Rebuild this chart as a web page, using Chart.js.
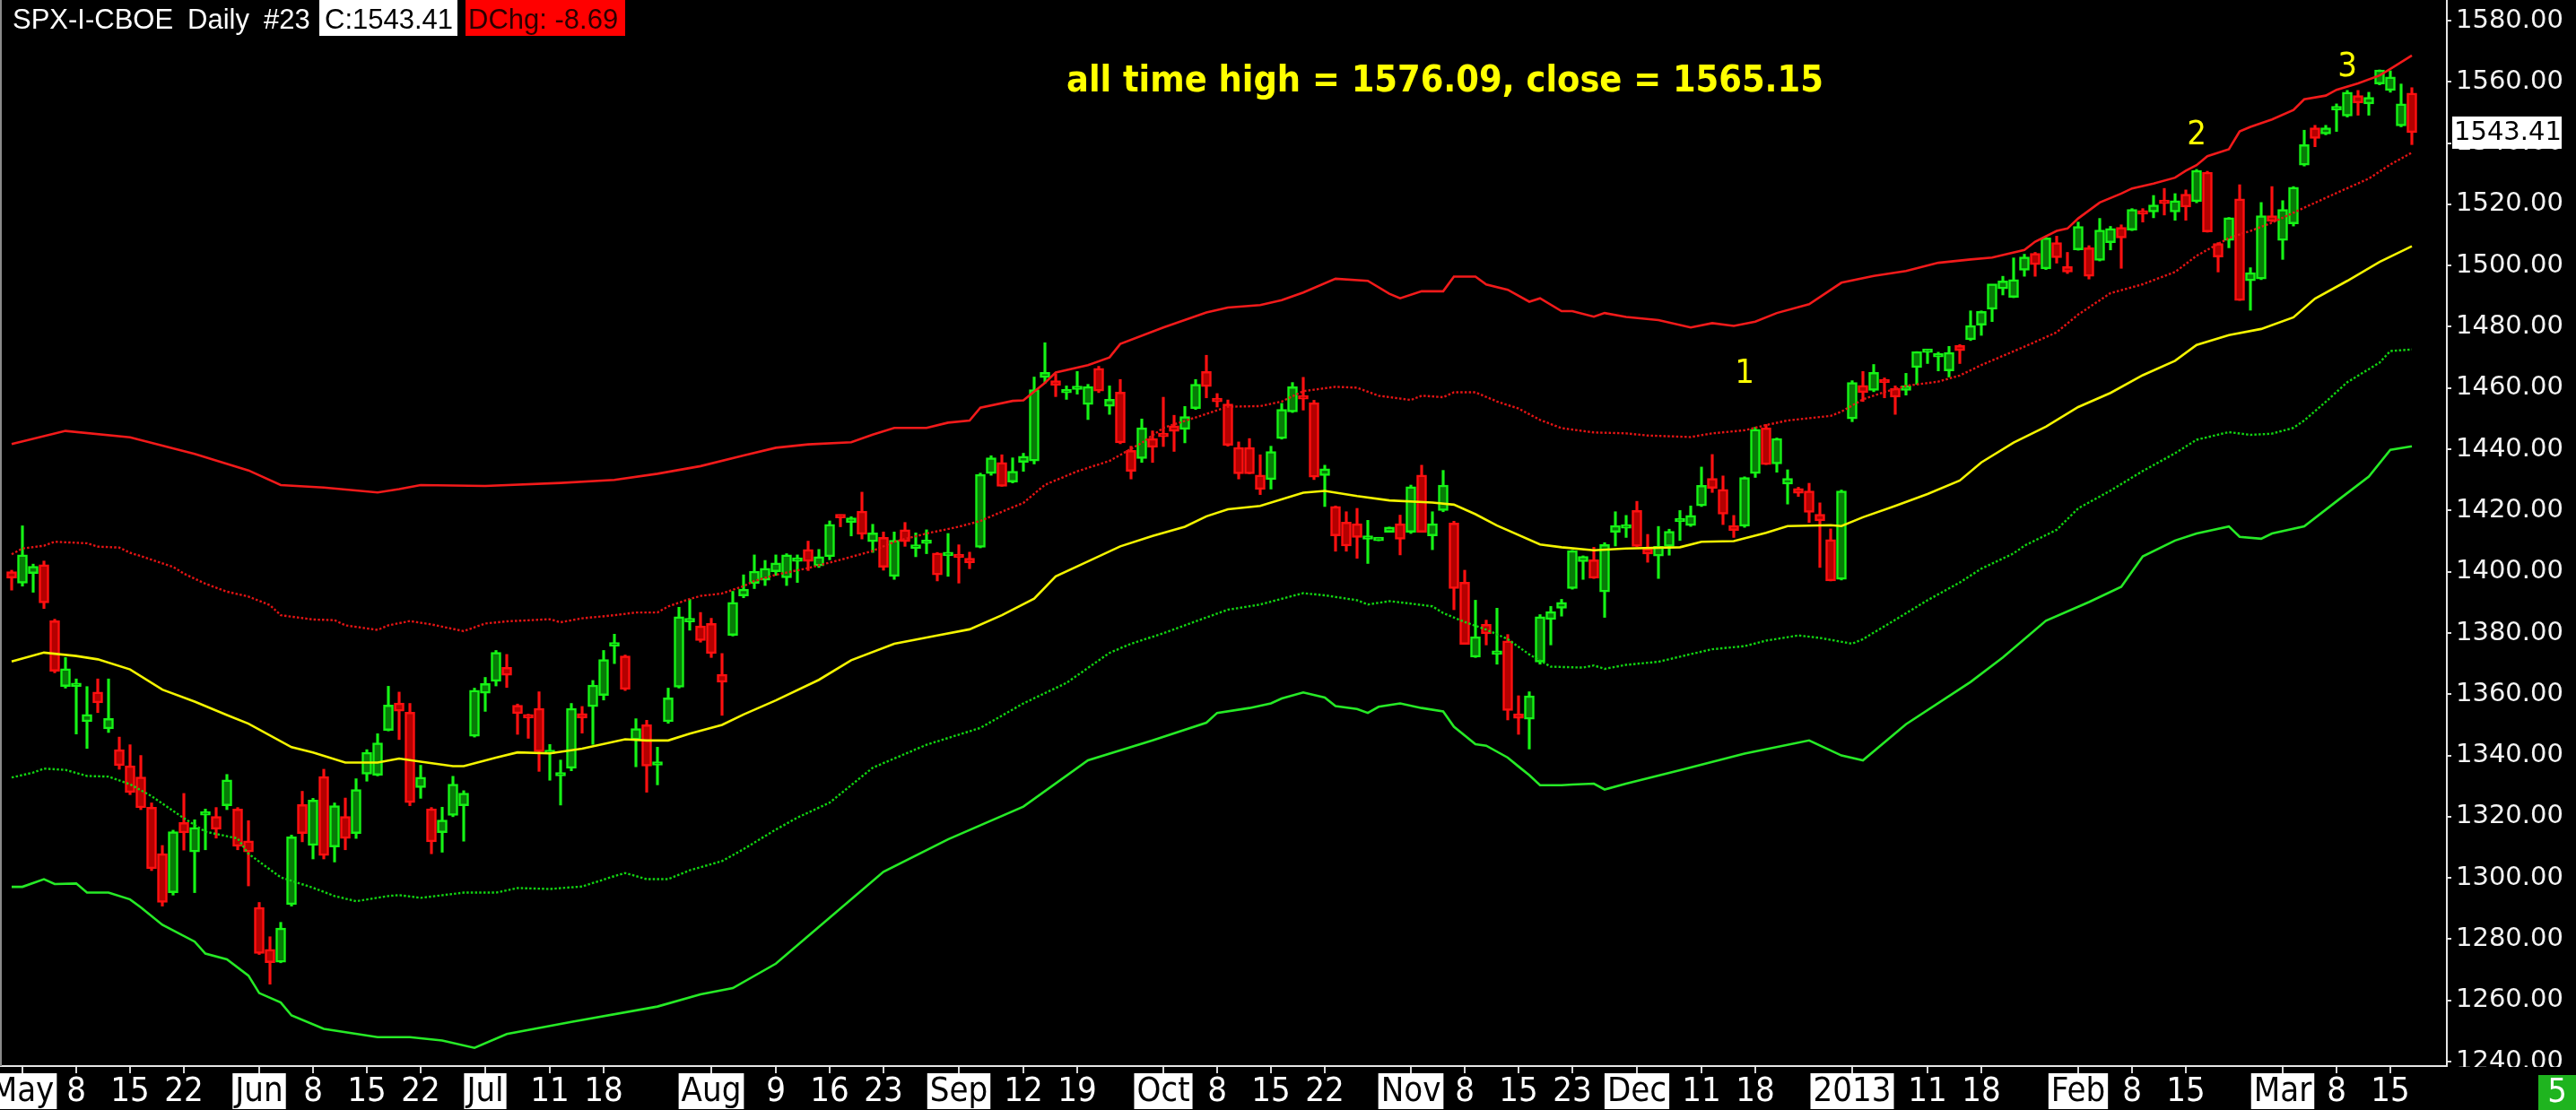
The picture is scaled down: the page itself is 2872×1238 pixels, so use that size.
<!DOCTYPE html>
<html>
<head>
<meta charset="utf-8">
<title>SPX-I-CBOE Daily</title>
<script src="https://cdn.jsdelivr.net/npm/chart.js@4.4.1/dist/chart.umd.min.js"></script>
<style>
  html, body { margin: 0; padding: 0; background: #000; overflow: hidden; }
  canvas { display: block; }
</style>
</head>
<body>
<canvas id="chart" width="2872" height="1238"></canvas>
<script>
// Trading days shown (Oct 29/30 slots are kept, as in the source chart)
const dates = [
  '2012-04-30',
  '2012-05-01','2012-05-02','2012-05-03','2012-05-04','2012-05-07','2012-05-08','2012-05-09','2012-05-10','2012-05-11','2012-05-14','2012-05-15',
  '2012-05-16','2012-05-17','2012-05-18','2012-05-21','2012-05-22','2012-05-23','2012-05-24','2012-05-25','2012-05-29','2012-05-30','2012-05-31',
  '2012-06-01','2012-06-04','2012-06-05','2012-06-06','2012-06-07','2012-06-08','2012-06-11','2012-06-12','2012-06-13','2012-06-14','2012-06-15',
  '2012-06-18','2012-06-19','2012-06-20','2012-06-21','2012-06-22','2012-06-25','2012-06-26','2012-06-27','2012-06-28','2012-06-29',
  '2012-07-02','2012-07-03','2012-07-05','2012-07-06','2012-07-09','2012-07-10','2012-07-11','2012-07-12','2012-07-13','2012-07-16','2012-07-17',
  '2012-07-18','2012-07-19','2012-07-20','2012-07-23','2012-07-24','2012-07-25','2012-07-26','2012-07-27','2012-07-30','2012-07-31',
  '2012-08-01','2012-08-02','2012-08-03','2012-08-06','2012-08-07','2012-08-08','2012-08-09','2012-08-10','2012-08-13','2012-08-14','2012-08-15',
  '2012-08-16','2012-08-17','2012-08-20','2012-08-21','2012-08-22','2012-08-23','2012-08-24','2012-08-27','2012-08-28','2012-08-29','2012-08-30','2012-08-31',
  '2012-09-04','2012-09-05','2012-09-06','2012-09-07','2012-09-10','2012-09-11','2012-09-12','2012-09-13','2012-09-14','2012-09-17','2012-09-18',
  '2012-09-19','2012-09-20','2012-09-21','2012-09-24','2012-09-25','2012-09-26','2012-09-27','2012-09-28',
  '2012-10-01','2012-10-02','2012-10-03','2012-10-04','2012-10-05','2012-10-08','2012-10-09','2012-10-10','2012-10-11','2012-10-12','2012-10-15',
  '2012-10-16','2012-10-17','2012-10-18','2012-10-19','2012-10-22','2012-10-23','2012-10-24','2012-10-25','2012-10-26','2012-10-29','2012-10-30','2012-10-31',
  '2012-11-01','2012-11-02','2012-11-05','2012-11-06','2012-11-07','2012-11-08','2012-11-09','2012-11-12','2012-11-13','2012-11-14','2012-11-15',
  '2012-11-16','2012-11-19','2012-11-20','2012-11-21','2012-11-23','2012-11-26','2012-11-27','2012-11-28','2012-11-29','2012-11-30',
  '2012-12-03','2012-12-04','2012-12-05','2012-12-06','2012-12-07','2012-12-10','2012-12-11','2012-12-12','2012-12-13','2012-12-14','2012-12-17',
  '2012-12-18','2012-12-19','2012-12-20','2012-12-21','2012-12-24','2012-12-26','2012-12-27','2012-12-28','2012-12-31',
  '2013-01-02','2013-01-03','2013-01-04','2013-01-07','2013-01-08','2013-01-09','2013-01-10','2013-01-11','2013-01-14','2013-01-15','2013-01-16',
  '2013-01-17','2013-01-18','2013-01-22','2013-01-23','2013-01-24','2013-01-25','2013-01-28','2013-01-29','2013-01-30','2013-01-31',
  '2013-02-01','2013-02-04','2013-02-05','2013-02-06','2013-02-07','2013-02-08','2013-02-11','2013-02-12','2013-02-13','2013-02-14','2013-02-15',
  '2013-02-19','2013-02-20','2013-02-21','2013-02-22','2013-02-25','2013-02-26','2013-02-27','2013-02-28',
  '2013-03-01','2013-03-04','2013-03-05','2013-03-06','2013-03-07','2013-03-08','2013-03-11','2013-03-12','2013-03-13','2013-03-14','2013-03-15',
  '2013-03-18','2013-03-19'
];

const open = [
  1400,1396.3,1399.4,1402.3,1384,1362.5,1362.5,1351,1360.7,1348.7,
  1341.9,1336.6,1333,1323.1,1307.9,1295.2,1318.1,1308.5,1320.5,1320.1,
  1323.6,1322.5,1312.1,1290.4,1276.7,1272.5,1291.3,1324,1310.6,1333.1,
  1310.1,1320.1,1314.5,1333.9,1333.5,1348.2,1357.1,1354.1,1329.5,1322.6,
  1314.8,1320.4,1323.6,1346.3,1360.3,1364.2,1368.8,1356.4,1353,1355.4,
  1340.6,1333.3,1335.8,1353.7,1355.9,1359.6,1375.7,1372.5,1345.1,1350,
  1336.8,1351,1362.3,1383.6,1382.3,1383.1,1366.5,1379.2,1392.1,1396.2,
  1397.2,1400,1398,1403.4,1407.3,1401.9,1404.9,1418.1,1416.1,1419.8,
  1409.8,1411.2,1398.5,1413.7,1407.6,1409.2,1406.1,1405.2,1405.4,1404.4,
  1408,1432.1,1435.7,1429.3,1435.7,1436.2,1463.4,1462.4,1458.4,1459.5,
  1454.6,1466.4,1454,1458.7,1439.6,1437,1443.5,1444.7,1447.7,1446.5,
  1453.3,1465.4,1456.2,1454.8,1440.6,1440.6,1431.6,1430.1,1443.5,1452.2,
  1457.5,1455.2,1431.4,1421.3,1416.2,1415.7,1410.6,1410.1,1412.9,1415.7,
  1412.9,1431.6,1411.7,1420,1415.9,1396.6,1372.1,1382.8,1373,1377.4,
  1353.6,1351.8,1370.5,1384.4,1388.1,1394.5,1403.3,1403.9,1393.4,1412.9,
  1414.2,1420,1407.6,1405.1,1408.3,1416.3,1415.1,1421.5,1430.5,1426.9,
  1415.1,1414.9,1432.1,1447,1435.2,1428.6,1427.2,1426.4,1418.8,1410.5,
  1397.5,1449.9,1460.9,1459.2,1462.8,1459.9,1459.2,1466.7,1471.6,1470.1,
  1465.6,1473.9,1475.8,1480.5,1485.7,1492.4,1489.6,1498.5,1504,1498.9,
  1507.5,1499.7,1505.1,1505.8,1501.7,1507.5,1512.5,1511.6,1517.7,1517.5,
  1521.4,1517.5,1523.3,1520.9,1530.5,1507.2,1508.2,1521.8,1495,1495.6,
  1516.3,1508.2,1513.6,1532.8,1545,1543,1550.8,1548.8,1555.5,1552.8,
  1559.3,1557.2,1545.6,1556.3
];

const high = [
  1400.5,1415,1402.5,1403.5,1384.5,1372,1365,1362.5,1365,1365,
  1346,1343.5,1340,1324.5,1310.6,1315.6,1327.6,1319,1322.5,1323,
  1333.8,1323,1318.7,1292,1280.8,1285.5,1314,1328.3,1326,1335.5,
  1324.5,1326.1,1332.4,1341.9,1347.1,1362.6,1360.7,1357,1336.8,1323,
  1323.1,1333.2,1328.5,1362,1365.5,1374.3,1373,1356.8,1353.5,1360.8,
  1343.6,1338.5,1357,1356,1364.5,1374.3,1379.6,1372.8,1352,1351.5,
  1342.7,1362,1388.4,1391,1386.7,1384.8,1373.3,1393.6,1399,1405.5,
  1403.7,1405.5,1405.9,1405.5,1410,1407.3,1416.6,1418.6,1418,1426,
  1415.5,1413,1413,1416.1,1412.7,1413.7,1406.3,1412.5,1408.8,1406.4,
  1432.2,1437.9,1438.2,1437.2,1438.7,1463.6,1474.8,1464.6,1460.7,1465.4,
  1461.2,1467.1,1460.7,1462.8,1441,1449.9,1446,1457,1451.1,1454,
  1462.8,1470.7,1458.2,1456.1,1442.4,1443.5,1438.2,1441,1455,1461.8,
  1463.5,1456,1434.8,1421.5,1419.6,1420.7,1416.8,1410.7,1414.6,1418.5,
  1428.3,1434.8,1419.6,1433.1,1416.5,1400.5,1390.7,1384.2,1388.1,1379.5,
  1359.5,1360.8,1386,1388.7,1391,1407,1405.2,1408,1409.5,1419.6,
  1418.4,1423,1412.2,1414.8,1413.9,1420,1421.5,1434.2,1438.3,1431.3,
  1418.4,1431,1447.2,1448.1,1443.7,1433.3,1427.6,1428.9,1422.5,1414,
  1426.7,1462.4,1465.4,1467.7,1463.3,1460.7,1464.8,1471.9,1472.5,1471.7,
  1473.6,1474.2,1485.2,1485.2,1493,1496.5,1502.5,1503.7,1504.3,1509.2,
  1509.6,1504.3,1514.2,1506.5,1515.4,1512.8,1513.3,1518.6,1518.6,1522.9,
  1525.2,1523.5,1524.7,1531.4,1530.8,1507.5,1515.7,1526.4,1499.3,1520.6,
  1525.8,1521.2,1525.8,1544.2,1545.8,1545.8,1552.8,1557.2,1557.2,1556.6,
  1563.9,1563.6,1559.3,1558.1
];

const low = [
  1394,1395.3,1393.3,1388,1367,1362,1347,1342.3,1354,1347.5,
  1335.5,1327.2,1322.3,1302.4,1290.8,1294.4,1309.1,1295.2,1309.2,1313,
  1322.3,1309.2,1297.4,1275,1265.3,1272.3,1290.8,1311.8,1306.2,1306.2,
  1305.2,1309.2,1312.9,1331.6,1333.3,1348,1345.2,1323.6,1326,1307.9,
  1308.4,1320,1312,1346,1354.4,1362.7,1362.2,1346.9,1345.6,1334.8,
  1331.9,1323.8,1335,1347.3,1343.6,1358.1,1370,1361.2,1336.3,1328,
  1330.4,1350.5,1362,1380.9,1377,1372,1353.1,1379,1391.5,1394.5,
  1395.5,1398.8,1395.5,1396.5,1400.4,1401.4,1403.9,1414.7,1411.7,1410.7,
  1406.3,1400.5,1397.5,1408.3,1404.9,1405.9,1397,1398.5,1396.3,1401,
  1407.8,1431.5,1427.9,1429,1432.8,1435.2,1461.6,1457.2,1456.3,1458,
  1449.7,1458.5,1451.4,1441.8,1430.3,1435.7,1435.7,1440.9,1439.3,1442.1,
  1453,1456.8,1453.8,1441,1430.3,1432,1425.2,1427,1443.3,1452,
  1452.8,1430.1,1421.3,1406.7,1406.7,1404.4,1402.7,1410.1,1412.9,1405.5,
  1412.5,1412.9,1407.2,1419.6,1387.6,1376.3,1372,1376.1,1369.8,1351.6,
  1346.9,1342.1,1369.8,1376.1,1385.5,1394.3,1397.5,1397.8,1385.1,1408.4,
  1411.2,1408.2,1403.1,1397.8,1405.4,1410.2,1414.8,1421.3,1425.9,1415.4,
  1411.2,1414.5,1430.8,1435,1432.5,1422.1,1424.6,1416.1,1401.4,1397,
  1397.3,1449,1455.6,1458.8,1456.8,1451.4,1457.7,1461.2,1468,1465.6,
  1463.6,1468,1475.5,1477.2,1481.7,1490.4,1489.5,1496.5,1496.5,1498.7,
  1500.8,1497.4,1505,1495.6,1501.5,1505.1,1499.1,1511.4,1514.2,1515.6,
  1516.5,1514.8,1514.8,1520.5,1510.9,1497.9,1505.8,1488.6,1485.4,1495.4,
  1514.3,1502,1512.9,1532.5,1538.8,1542.7,1543.8,1548.5,1549.1,1549.1,
  1559,1556.6,1545.3,1539.5
];

const close = [
  1397.9,1405.5,1401.8,1389.8,1367.5,1368.3,1363,1353.4,1357.2,1352.1,
  1336.7,1327.9,1322.9,1303,1292,1315.1,1314.7,1316.5,1321,1315.9,
  1332,1310.3,1308.5,1275.3,1272.3,1283.6,1313.4,1314.5,1325.4,1307.3,
  1323.6,1312.9,1328.9,1341,1344.1,1356.5,1354.5,1324.6,1332.9,1311.8,
  1318.9,1330.6,1327.7,1361.3,1363.5,1373.7,1366.2,1353.7,1352.2,1341.2,
  1341.4,1333.9,1355.4,1352.2,1363,1371.3,1376.3,1361.6,1348.8,1336.5,
  1337.4,1358.8,1385.3,1384.2,1377.5,1373.3,1363.9,1390,1394.3,1400.2,
  1401.1,1402.9,1405.5,1404,1403.4,1404.9,1415.5,1417.6,1417.6,1412.2,
  1412.7,1401.5,1410.3,1409.8,1408.8,1409.8,1399,1405.9,1404.6,1402.9,
  1431.8,1437.2,1427.9,1432.8,1437.7,1459.5,1465.1,1460.9,1458.9,1460.3,
  1460.5,1459,1456.3,1442.1,1432.8,1447,1440.6,1444.1,1445.8,1450.7,
  1461.2,1460.5,1455.5,1441.3,1432,1432,1426.9,1439.3,1453,1460.4,
  1456.4,1430.9,1433.6,1411.7,1408.4,1411.2,1411.1,1410.7,1414.6,1410.6,
  1427.8,1412.9,1415.7,1428.3,1394.5,1376.3,1378.8,1379.7,1374.1,1354.7,
  1352.1,1359.5,1385.3,1387,1390,1406.9,1405,1397.9,1408.9,1415.1,
  1414.8,1408.3,1405.8,1408.3,1413.2,1416.9,1418.4,1428.2,1427.2,1418.8,
  1413.5,1430.8,1446.5,1435,1443.5,1430.5,1425.6,1419.4,1416.6,1397,
  1426.4,1461.8,1458.5,1465.1,1461.7,1457,1460.7,1471.9,1472.2,1470.5,
  1471.6,1472.2,1480.4,1485,1494,1495,1495.4,1502.8,1500.3,1509,
  1502.6,1497.9,1512.8,1496.5,1511.6,1512.1,1509,1518.3,1516.8,1519.8,
  1520.2,1521.2,1519.1,1531.1,1511,1502.8,1515.6,1488.6,1497.7,1516.3,
  1514.4,1518.3,1525.6,1539.5,1541.5,1545,1551.2,1556.6,1553.1,1554.9,
  1563.9,1561.6,1552.8,1543.41
];

// Bands: [trading-day index into dates, price]
const upperOuter = [
  [0,1441.7],[5,1446],[11,1443.9],[17,1438.5],[22,1433.1],[25,1428.3],[29,1427.5],[34,1425.9],[36,1427],[38,1428.3],
  [44,1428],[51,1429],[56,1430],[60,1432],[64,1434.5],[68,1438],[71,1440.5],[74,1441.6],[78,1442.3],[80,1444.8],
  [82,1447],[85,1447],[87,1448.7],[89,1449.4],[90,1453.6],[93,1455.8],[94,1456],[96,1461.7],[97,1465.1],[100,1467.5],
  [102,1470],[103,1474.4],[107,1479.8],[111,1484.7],[113,1486.3],[116,1487.1],[118,1488.7],[120,1491.2],[123,1495.7],[126,1495],
  [128,1490.8],[129,1489.3],[131,1491.6],[133,1491.6],[134,1496.4],[136,1496.4],[137,1493.8],[139,1492.1],[141,1488.2],[142,1489.3],
  [144,1485.1],[145,1485.1],[147,1483.3],[148,1484.5],[150,1483.2],[153,1482.2],[156,1479.8],[158,1481.2],[160,1480.3],[162,1481.7],
  [164,1484.5],[167,1487.4],[170,1494.4],[173,1496.6],[176,1498.2],[179,1500.9],[182,1502],[184,1502.6],[187,1505.1],[188,1507.8],
  [190,1511.3],[191,1512.1],[192,1515.4],[194,1520.6],[196,1523.5],[197,1525.2],[199,1526.8],[201,1528.7],[202,1531],[203,1532.8],
  [204,1535.7],[206,1538],[207,1543.8],[208,1545.3],[210,1547.7],[212,1550.8],[213,1554.3],[215,1555.5],[216,1557.4],[218,1559.5],
  [220,1562.1],[221,1564.2],[223,1568.6]
];

const upperInner = [
  [0,1405.7],[1,1407.6],[3,1408.5],[4,1409.8],[7,1409.3],[8,1408.2],[10,1407.9],[11,1406.2],[12,1405.1],[15,1401.6],
  [16,1399.4],[18,1396.1],[20,1393.5],[22,1391.9],[24,1389.1],[25,1385.8],[28,1384.4],[30,1384.2],[31,1382.5],[34,1381],
  [35,1382.5],[37,1383.9],[39,1382.8],[42,1380.6],[44,1383.1],[46,1383.8],[50,1384.5],[51,1383.5],[53,1384.8],[56,1385.8],
  [58,1386.7],[60,1386.7],[61,1388.7],[63,1391.1],[64,1392.1],[66,1392.9],[68,1395.3],[69,1397],[71,1399],[74,1401.2],
  [77,1403.9],[80,1406.8],[82,1409.8],[85,1412.5],[88,1414.7],[90,1416.6],[92,1419.6],[94,1422.5],[96,1428.4],[99,1432.8],
  [102,1436.2],[105,1442.1],[107,1447],[110,1450.4],[113,1453.9],[116,1454.1],[118,1455.6],[120,1459],[123,1460.4],[125,1460.1],
  [127,1457.5],[130,1456.1],[131,1457.5],[133,1457],[134,1458.6],[136,1458.6],[138,1455.6],[140,1453.3],[142,1449.6],[144,1446.9],
  [147,1445.5],[150,1445.2],[152,1444.5],[156,1444],[158,1445.2],[161,1446.2],[163,1447.9],[165,1449.4],[169,1450.9],[170,1452.3],
  [172,1456.3],[174,1458.7],[176,1460.7],[179,1462.1],[181,1464.1],[183,1467.5],[186,1472],[187,1473.5],[190,1478.2],[192,1484],
  [195,1491],[198,1493.9],[201,1497.9],[203,1503.2],[206,1509],[208,1511.3],[210,1514],[213,1518.9],[216,1523.7],[219,1528.4],
  [221,1533],[223,1536.9]
];

const middle = [
  [0,1370.7],[3,1373.6],[6,1372.5],[8,1371.4],[11,1368.1],[14,1361.5],[17,1357.6],[20,1353.2],[22,1350.4],[26,1342.7],
  [28,1341],[31,1337.7],[34,1337.7],[36,1339],[38,1338],[41,1336.5],[42,1336.5],[45,1339.3],[47,1341],[50,1340.7],
  [53,1342.2],[57,1345.3],[59,1344.9],[61,1344.9],[63,1347.1],[66,1350],[68,1353.4],[71,1358],[75,1364.7],[78,1371.1],
  [82,1376.5],[86,1379.2],[89,1381.2],[92,1385.8],[95,1391.2],[97,1398.5],[100,1403.4],[103,1408.3],[106,1411.7],[109,1414.7],
  [111,1418.1],[113,1420.4],[116,1421.5],[120,1425.8],[122,1426.4],[125,1424.7],[128,1423.3],[132,1422.6],[134,1421.9],[136,1418.8],
  [138,1415.1],[142,1408.9],[144,1408],[147,1407],[150,1407.6],[155,1408],[157,1409.8],[160,1410],[163,1412.7],[165,1414.9],
  [169,1415.2],[170,1414.9],[172,1417.8],[175,1421.5],[178,1425.4],[181,1429.8],[183,1435.7],[186,1442.2],[189,1447.4],[192,1453.8],
  [195,1458.4],[198,1464.2],[201,1468.9],[203,1474.1],[206,1477.3],[209,1479.3],[212,1483.1],[214,1489.2],[217,1495],[220,1501.2],
  [223,1506.3]
];

const lowerInner = [
  [0,1332.8],[2,1334.4],[3,1335.7],[5,1335.3],[7,1333.3],[9,1333.1],[11,1330.6],[13,1326.7],[16,1319.5],[18,1315.1],
  [21,1312.9],[22,1307.9],[25,1300.2],[28,1296.8],[30,1294.1],[32,1292.4],[35,1294.1],[36,1294.4],[38,1293.5],[42,1295.2],
  [45,1295.2],[47,1296.7],[50,1296.4],[53,1297.2],[56,1300.6],[57,1301.6],[59,1299.6],[61,1299.6],[63,1302.5],[66,1305.5],
  [68,1309.4],[71,1315.8],[73,1319.7],[76,1324.6],[80,1336],[85,1343.5],[90,1349],[94,1357],[98,1363.7],[102,1373.5],
  [104,1376.5],[107,1379.9],[110,1383.8],[113,1387.6],[116,1389.3],[119,1392.1],[120,1393],[122,1392.3],[125,1390.7],[126,1389.3],
  [128,1390.4],[130,1389.6],[132,1388.7],[133,1386.5],[135,1383.6],[137,1381.1],[139,1378],[141,1373],[143,1369],[146,1368.7],
  [147,1369.4],[148,1368.3],[150,1369.6],[153,1370.6],[156,1373.1],[158,1374.7],[161,1375.7],[163,1377.5],[166,1379.2],[168,1378.4],
  [171,1376.5],[172,1378],[175,1384.3],[178,1390.7],[181,1396.5],[183,1401],[186,1406],[187,1408.5],[190,1413.7],[192,1420.7],
  [195,1426.5],[198,1432.9],[201,1438.7],[203,1443.1],[206,1445.6],[208,1444.7],[210,1445.1],[212,1447],[213,1449.4],[215,1455.5],
  [217,1461.9],[220,1468.3],[221,1472.1],[223,1472.6]
];

const lowerOuter = [
  [0,1297.1],[1,1297.1],[3,1299.6],[4,1298],[6,1298.2],[7,1295.2],[9,1295.2],[11,1293],[12,1290.4],[14,1284.7],
  [17,1279.2],[18,1275.3],[20,1273.4],[22,1268.1],[23,1262.4],[25,1259.3],[26,1255.1],[29,1250.7],[34,1248],[37,1248],
  [40,1246.9],[43,1244.5],[46,1249],[52,1253],[60,1258],[64,1262],[67,1264],[71,1272],[75,1284],[81,1302],
  [87,1312.6],[94,1323.3],[100,1338.4],[106,1344.9],[111,1350.7],[112,1353.9],[115,1355.5],[117,1357],[118,1358.6],[120,1360.6],
  [122,1358.9],[123,1356.1],[125,1355.2],[126,1353.9],[127,1355.9],[129,1357],[131,1355.5],[133,1354.4],[134,1349.4],[136,1343.7],
  [137,1343.2],[139,1339.3],[140,1336.4],[141,1333.6],[142,1330.3],[144,1330.3],[145,1330.5],[147,1330.8],[148,1328.9],[150,1330.8],
  [155,1335.2],[161,1340.6],[167,1344.9],[170,1340],[172,1338.4],[176,1350.2],[182,1364],[185,1372],[189,1384],[193,1390.1],
  [196,1395.1],[198,1405],[201,1410.2],[203,1412.5],[206,1414.8],[207,1411.4],[209,1410.8],[210,1412.5],[213,1414.8],[216,1423],
  [219,1431.1],[221,1439.8],[223,1441]
];

// Axis ticks
const xTickDates = [
  '2012-05-01','2012-05-08','2012-05-15','2012-05-22','2012-06-01','2012-06-08','2012-06-15','2012-06-22',
  '2012-07-02','2012-07-11','2012-07-18','2012-08-01','2012-08-09','2012-08-16','2012-08-23','2012-09-04',
  '2012-09-12','2012-09-19','2012-10-01','2012-10-08','2012-10-15','2012-10-22','2012-11-01','2012-11-08',
  '2012-11-15','2012-11-23','2012-12-03','2012-12-11','2012-12-18','2013-01-02','2013-01-11','2013-01-18',
  '2013-02-01','2013-02-08','2013-02-15','2013-03-01','2013-03-08','2013-03-15'
];
const xTickLabels = [
  'May','8','15','22','Jun','8','15','22','Jul','11','18','Aug','9','16','23','Sep',
  '12','19','Oct','8','15','22','Nov','8','15','23','Dec','11','18','2013','11','18',
  'Feb','8','15','Mar','8','15'
];
const yTicks = [1240,1260,1280,1300,1320,1340,1360,1380,1400,1420,1440,1460,1480,1500,1520,1540,1560,1580];

// Texts
const symbolName = 'SPX-I-CBOE', period = 'Daily', chartNo = '#23';
const dayChange = -8.69;
const headline = 'all time high = 1576.09, close = 1565.15';
const marks = ['1', '2', '3'];
const markDates = ['2012-12-17', '2013-02-19', '2013-03-11'];
const markPrices = [1464.6, 1542.5, 1564.6];
const cornerCount = '5';

// Colours
const GREEN = '#16f416', GREEN_FILL = '#077c07';
const RED = '#ff1010', RED_FILL = '#b40000';
const NARROW = "'Liberation Sans Narrow', 'DejaVu Sans Condensed', sans-serif";
const COND = "'DejaVu Sans Condensed', 'DejaVu Sans', sans-serif";

const up = close.map((c, i) => c >= open[i]);
const bodies = dates.map((d, i) => ({x: i, y: [open[i], close[i]]}));
const wicks = dates.map((d, i) => ({x: i, y: [low[i], high[i]]}));
const toPoints = arr => arr.map(p => ({x: p[0], y: p[1]}));
const tickIdx = xTickDates.map(d => dates.indexOf(d));
const isMonth = i => !/^\d{1,2}$/.test(xTickLabels[i]);

const bandLine = (data, color, dashed) => ({
  type: 'line', data: toPoints(data), borderColor: color, borderWidth: dashed ? 2.4 : 2.6,
  borderDash: dashed ? [2.5, 2.2] : [], pointRadius: 0, tension: 0, order: 0
});

// header, labels and the boxes on the price axis
const overlay = {
  id: 'overlay',
  afterDraw(chart) {
    const ctx = chart.ctx, a = chart.chartArea, x = chart.scales.x, y = chart.scales.y;
    ctx.save();

    ctx.fillStyle = '#8a8a8a';
    ctx.fillRect(0, 0, 2, a.bottom);

    // lowest price label is cut by the frame
    ctx.fillStyle = '#000';
    ctx.fillRect(a.right + 2, a.bottom + 1, chart.width - a.right, chart.height - a.bottom);

    // last price box
    const last = close[close.length - 1];
    const py = y.getPixelForValue(last);
    ctx.fillStyle = '#fff';
    ctx.fillRect(a.right + 6, py - 18, 122, 36);
    ctx.fillStyle = '#000';
    ctx.font = "29px 'DejaVu Sans'";
    ctx.textBaseline = 'middle';
    ctx.textAlign = 'left';
    ctx.fillText(last.toFixed(2), a.right + 8, py + 1);

    // corner box
    ctx.fillStyle = '#1fb41f';
    ctx.fillRect(chart.width - 42, a.bottom + 10, 42, chart.height - a.bottom - 10);
    ctx.fillStyle = '#fff';
    ctx.font = '38px ' + NARROW;
    ctx.textAlign = 'center';
    ctx.fillText(cornerCount, chart.width - 21, a.bottom + 30);

    // header
    ctx.textAlign = 'left';
    ctx.textBaseline = 'alphabetic';
    ctx.font = "31px 'Liberation Sans', sans-serif";
    ctx.fillStyle = '#fff';
    ctx.fillText(symbolName, 14, 32);
    ctx.fillText(period, 209, 32);
    ctx.fillText(chartNo, 294, 32);
    ctx.fillRect(356, 0, 154, 40);
    ctx.fillStyle = '#000';
    ctx.fillText('C:' + last.toFixed(2), 362, 32);
    ctx.fillStyle = '#ff0000';
    ctx.fillRect(519, 0, 178, 40);
    ctx.fillStyle = '#2a0000';
    ctx.fillText('DChg: ' + dayChange.toFixed(2), 522, 32);

    // annotation
    ctx.fillStyle = '#ffff00';
    ctx.font = 'bold 41px ' + COND;
    ctx.fillText(headline, 1189, 102);

    ctx.font = '38px ' + COND;
    ctx.textAlign = 'center';
    ctx.textBaseline = 'middle';
    marks.forEach((m, k) => {
      ctx.fillText(m, x.getPixelForValue(dates.indexOf(markDates[k])), y.getPixelForValue(markPrices[k]));
    });

    ctx.restore();
  }
};

new Chart(document.getElementById('chart'), {
  type: 'bar',
  data: {
    datasets: [
      bandLine(upperOuter, '#f21a1a', false),
      bandLine(upperInner, '#e41414', true),
      bandLine(middle, '#f4f400', false),
      bandLine(lowerInner, '#12d412', true),
      bandLine(lowerOuter, '#26ea26', false),
      {
        type: 'bar', data: bodies, grouped: false, order: 1,
        backgroundColor: up.map(u => u ? GREEN_FILL : RED_FILL),
        borderColor: up.map(u => u ? GREEN : RED),
        borderWidth: 2.5, borderSkipped: false, barThickness: 11, minBarLength: 4
      },
      {
        type: 'bar', data: wicks, grouped: false, order: 2,
        backgroundColor: up.map(u => u ? GREEN : RED),
        borderWidth: 0, barThickness: 2.5
      }
    ]
  },
  options: {
    responsive: false,
    animation: false,
    devicePixelRatio: 1,
    layout: {padding: 0},
    plugins: {legend: {display: false}, tooltip: {enabled: false}},
    scales: {
      x: {
        type: 'linear', position: 'bottom', bounds: 'data', offset: false,
        min: -13 / 12, max: 2715 / 12,
        afterBuildTicks: axis => { axis.ticks = tickIdx.map(v => ({value: v})); },
        afterFit: axis => { axis.height = 49; axis.paddingLeft = 0; axis.paddingRight = 0; },
        grid: {display: true, drawOnChartArea: false, offset: false, tickLength: 8, color: '#d8d8d8', lineWidth: 2},
        border: {display: true, color: '#e6e6e6', width: 2},
        ticks: {
          autoSkip: false, maxRotation: 0, padding: 2,
          font: {family: NARROW, size: 38, lineHeight: 1},
          callback: (v, i) => xTickLabels[i],
          color: c => isMonth(c.index) ? '#000' : '#fff',
          showLabelBackdrop: true,
          backdropColor: c => isMonth(c.index) ? '#fff' : 'rgba(0,0,0,0)',
          backdropPadding: {top: 2, bottom: 0, left: 3, right: 3}
        }
      },
      y: {
        type: 'linear', position: 'right', bounds: 'data',
        min: 1238.56, max: 1586.73,
        afterBuildTicks: axis => { axis.ticks = yTicks.map(v => ({value: v})); },
        afterFit: axis => { axis.width = 144; axis.paddingTop = 0; axis.paddingBottom = 0; },
        grid: {display: true, drawOnChartArea: false, tickLength: 5, color: '#e0e0e0', lineWidth: 2},
        border: {display: true, color: '#e6e6e6', width: 2},
        ticks: {
          padding: 5, color: '#f4f4f4',
          font: {family: "'DejaVu Sans', sans-serif", size: 29},
          callback: v => v.toFixed(2)
        }
      }
    }
  },
  plugins: [overlay]
});
</script>
</body>
</html>
